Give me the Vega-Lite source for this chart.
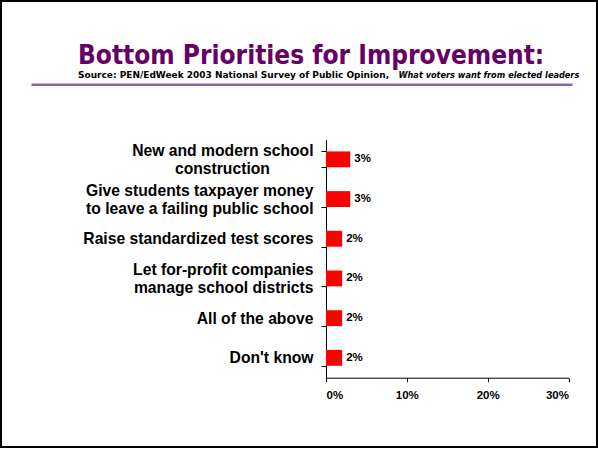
{
  "$schema": "https://vega.github.io/schema/vega-lite/v6.json",
  "autosize": "none",
  "width": 596,
  "height": 446,
  "padding": {"left": 1, "top": 1, "right": 1, "bottom": 3},
  "background": "white",
  "config": {"view": {"stroke": "black", "strokeWidth": 2}},
  "title": {
    "text": "Bottom Priorities for Improvement:",
    "subtitle": "Source: PEN/EdWeek 2003 National Survey of Public Opinion,",
    "anchor": "start",
    "frame": "group",
    "dx": 77,
    "offset": -86.5,
    "font": "DejaVu Sans Condensed",
    "fontSize": 26,
    "fontWeight": "bold",
    "color": "#660066",
    "subtitleFont": "DejaVu Sans",
    "subtitleFontSize": 9,
    "subtitleFontWeight": "bold",
    "subtitleColor": "black",
    "subtitlePadding": 1.5
  },
  "data": {
    "values": [
      {"item": "New and modern school|construction\u00a0\u00a0\u00a0\u00a0\u00a0\u00a0\u00a0\u00a0\u00a0\u00a0\u200b", "pct": 0.03},
      {"item": "Give students taxpayer money|to leave a failing public school", "pct": 0.03},
      {"item": "Raise standardized test scores", "pct": 0.02},
      {"item": "Let for-profit companies|manage school districts", "pct": 0.02},
      {"item": "All of the above", "pct": 0.02},
      {"item": "Don't know", "pct": 0.02}
    ]
  },
  "resolve": {"scale": {"x": "independent"}, "axis": {"x": "independent"}},
  "layer": [
    {
      "mark": {"type": "bar", "color": "#ff0000"},
      "encoding": {
        "y": {
          "field": "item",
          "type": "nominal",
          "sort": null,
          "scale": {"range": [138.5, 376.7], "paddingInner": 0.6, "paddingOuter": 0.3},
          "axis": {
            "title": null,
            "offset": -325,
            "tickBand": "extent",
            "tickSize": 5,
            "labelPadding": 8,
            "labelFont": "Liberation Sans",
            "labelFontSize": 15.7,
            "labelFontWeight": "bold",
            "labelColor": "black",
            "labelLineHeight": 17.5,
            "labelLimit": 320,
            "labelOffset": {"condition": {"test": "indexof(datum.label, '|') >= 0", "value": -8.5}, "value": 0},
            "labelExpr": "split(datum.label, '|')",
            "domainColor": "black",
            "tickColor": "black"
          }
        },
        "x": {
          "field": "pct",
          "type": "quantitative",
          "scale": {"domain": [0, 0.3], "range": [325, 567.5], "nice": false, "zero": true},
          "axis": {
            "orient": "bottom",
            "format": ".0%",
            "values": [0, 0.1, 0.2, 0.3],
            "offset": -69.3,
            "grid": false,
            "tickSize": 4,
            "labelPadding": 8,
            "labelFont": "Liberation Sans",
            "labelFontSize": 11.5,
            "labelFontWeight": "bold",
            "labelColor": "black",
            "domainColor": "black",
            "tickColor": "black",
            "title": "What voters want from elected leaders",
            "titleX": 397,
            "titleY": -300.4,
            "titleAlign": "left",
            "titleBaseline": "alphabetic",
            "titleFont": "DejaVu Sans",
            "titleFontSize": 8.2,
            "titleFontWeight": "bold",
            "titleFontStyle": "italic",
            "titleColor": "black"
          }
        }
      }
    },
    {
      "mark": {"type": "text", "align": "left", "baseline": "middle", "dx": 4, "font": "Liberation Sans", "fontSize": 11.5, "fontWeight": "bold", "color": "black"},
      "encoding": {
        "y": {"field": "item", "type": "nominal", "sort": null},
        "x": {"field": "pct", "type": "quantitative", "scale": {"domain": [0, 0.3], "range": [325, 567.5], "nice": false, "zero": true}, "axis": null},
        "text": {"field": "pct", "type": "quantitative", "format": ".0%"}
      }
    },
    {
      "mark": {"type": "text", "opacity": 0, "text": ""},
      "encoding": {
        "x": {
          "field": "pct",
          "type": "quantitative",
          "scale": {"domain": [0, 1], "range": [30, 571], "nice": false},
          "axis": {"orient": "top", "offset": -83.3, "domainColor": "#8466b0", "domainWidth": 2.5, "ticks": false, "labels": false, "title": null, "grid": false}
        }
      }
    }
  ]
}
